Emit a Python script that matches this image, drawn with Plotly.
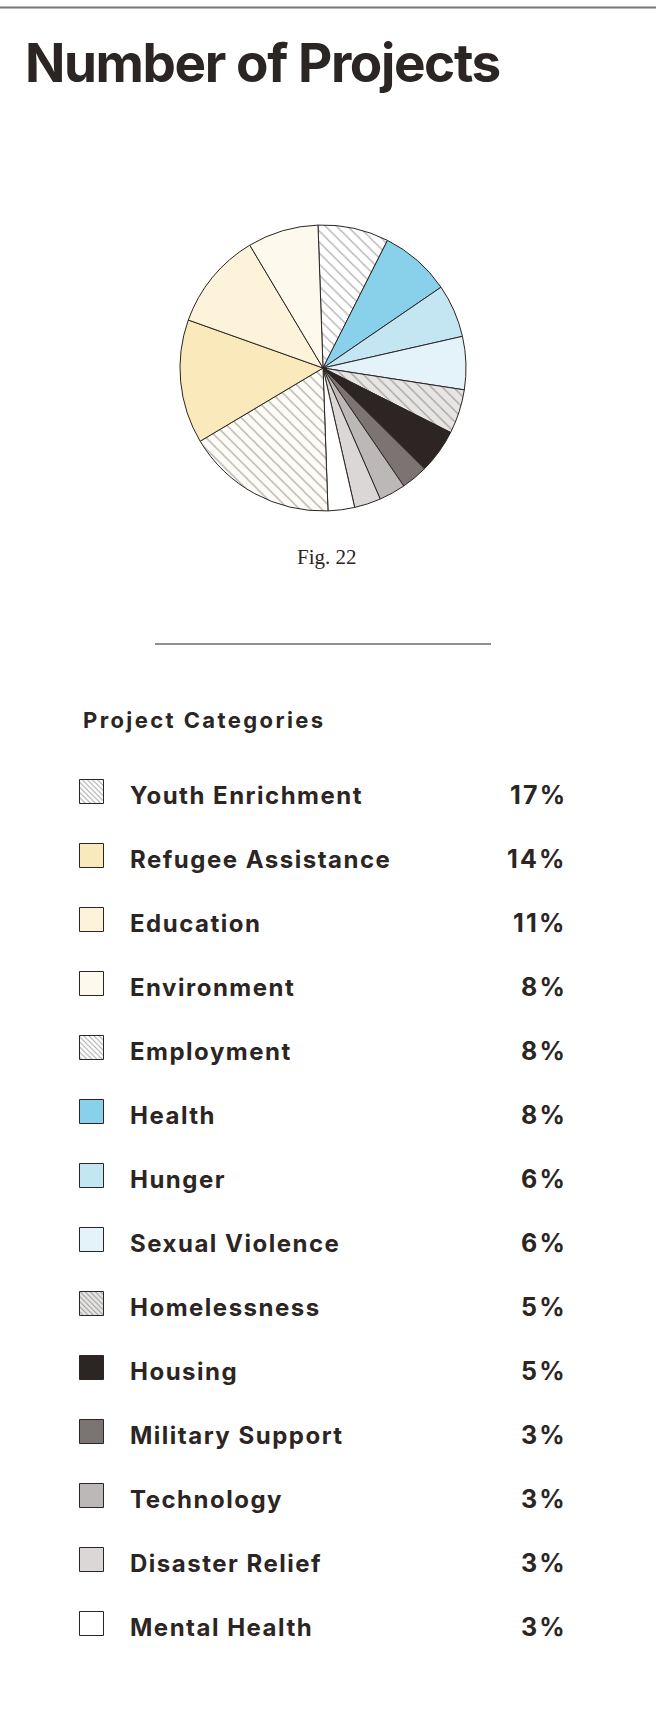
import plotly.graph_objects as go

# Project categories as listed in the legend, with their share of projects (%)
categories = [
    "Youth Enrichment", "Refugee Assistance", "Education", "Environment",
    "Employment", "Health", "Hunger", "Sexual Violence", "Homelessness",
    "Housing", "Military Support", "Technology", "Disaster Relief", "Mental Health",
]
shares = [17, 14, 11, 8, 8, 8, 6, 6, 5, 5, 3, 3, 3, 3]

fill_colors = [
    "#FEFCF7", "#FAEABB", "#FCF3DA", "#FDF9EC",
    "#FFFFFF", "#89D1EB", "#C3E6F2", "#E4F3FA", "#E6E5E4",
    "#2D2523", "#7C7472", "#BDB8B8", "#DBD7D6", "#FFFFFF",
]
hatched = [True, False, False, False, True, False, False, False, True,
           False, False, False, False, False]
swatch_colors = [
    "#FFFFFF", "#FAEABB", "#FCF3DA", "#FDF9EC",
    "#FFFFFF", "#89D1EB", "#C3E6F2", "#E4F3FA", "#E6E5E4",
    "#2D2523", "#7C7472", "#BDB8B8", "#DBD7D6", "#FFFFFF",
]

# The pie starts with Employment at 12 o'clock and runs clockwise
pie_start = categories.index("Employment")
pie_order = list(range(pie_start, len(categories))) + list(range(0, pie_start))

W, H = 656, 1720
INK = "#2B2523"


def spaced(text, px):
    return f'<span style="letter-spacing:{px}px">{text}</span>'


fig = go.Figure()

# ---- pie -------------------------------------------------------------------
cx, cy, r = 323, 368, 143
fig.add_trace(go.Pie(
    labels=[categories[i] for i in pie_order],
    values=[shares[i] for i in pie_order],
    sort=False,
    direction="clockwise",
    rotation=-2,
    textinfo="none",
    hoverinfo="label+percent",
    showlegend=False,
    domain=dict(x=[(cx - r) / W, (cx + r) / W],
                y=[1 - (cy + r) / H, 1 - (cy - r) / H]),
    marker=dict(
        colors=[fill_colors[i] for i in pie_order],
        line=dict(color=INK, width=1),
        pattern=dict(
            shape=["\\" if hatched[i] else "" for i in pie_order],
            fillmode="overlay",
            fgcolor="#686262",
            size=7.8,
            solidity=0.17,
        ),
    ),
))

# ---- legend swatches (bars on a page-sized pixel axis) ---------------------
row0, row_step = 780, 64
sw = 24
rows = list(range(len(categories)))
fig.add_trace(go.Bar(
    x=[80 + sw / 2 for _ in rows],
    y=[sw for _ in rows],
    base=[row0 + row_step * i for i in rows],
    width=sw,
    showlegend=False,
    hoverinfo="skip",
    marker=dict(
        color=swatch_colors,
        line=dict(color=INK, width=1),
        pattern=dict(
            shape=["\\" if h else "" for h in hatched],
            fillmode="overlay",
            fgcolor=INK,
            size=3.6,
            solidity=0.28,
        ),
    ),
    xaxis="x", yaxis="y",
))

annotations = []
shapes = []

# title
annotations.append(dict(
    x=23, y=63, xref="x", yref="y", xanchor="left", yanchor="middle",
    text=spaced("Number of Projects", -1.4), showarrow=False,
    font=dict(family="Inter", size=53, color=INK, weight=700),
))
# figure caption
annotations.append(dict(
    x=327, y=557, xref="x", yref="y", xanchor="center", yanchor="middle",
    text="Fig. 22", showarrow=False,
    font=dict(family="Liberation Serif", size=21, color=INK),
))
# legend heading
annotations.append(dict(
    x=81, y=720, xref="x", yref="y", xanchor="left", yanchor="middle",
    text=spaced("Project Categories", 2.4), showarrow=False,
    font=dict(family="Inter", size=22, color=INK, weight=700),
))
for i, (name, val) in enumerate(zip(categories, shares)):
    ty = row0 + row_step * i + 15
    annotations.append(dict(
        x=128, y=ty, xref="x", yref="y", xanchor="left", yanchor="middle",
        text=spaced(name, 1.5), showarrow=False,
        font=dict(family="Inter", size=24, color=INK, weight=700),
    ))
    annotations.append(dict(
        x=569, y=ty, xref="x", yref="y", xanchor="right", yanchor="middle",
        text=spaced(f"{val}%", 2.2), showarrow=False,
        font=dict(family="Inter", size=25, color=INK, weight=700),
    ))

# top rule and divider
shapes.append(dict(type="line", xref="x", yref="y", x0=0, x1=W, y0=7.5, y1=7.5,
                   line=dict(color="#7A7575", width=2)))
shapes.append(dict(type="line", xref="x", yref="y", x0=155, x1=491, y0=644, y1=644,
                   line=dict(color="#6F6A6A", width=1.5)))

fig.update_layout(
    width=W, height=H,
    margin=dict(l=0, r=0, t=0, b=0),
    paper_bgcolor="#FFFFFF",
    plot_bgcolor="rgba(0,0,0,0)",
    xaxis=dict(range=[0, W], domain=[0, 1], visible=False, fixedrange=True),
    yaxis=dict(range=[H, 0], domain=[0, 1], visible=False, fixedrange=True),
    annotations=annotations,
    shapes=shapes,
    bargap=0,
)

fig.write_html("out.html", config={"displayModeBar": False})
